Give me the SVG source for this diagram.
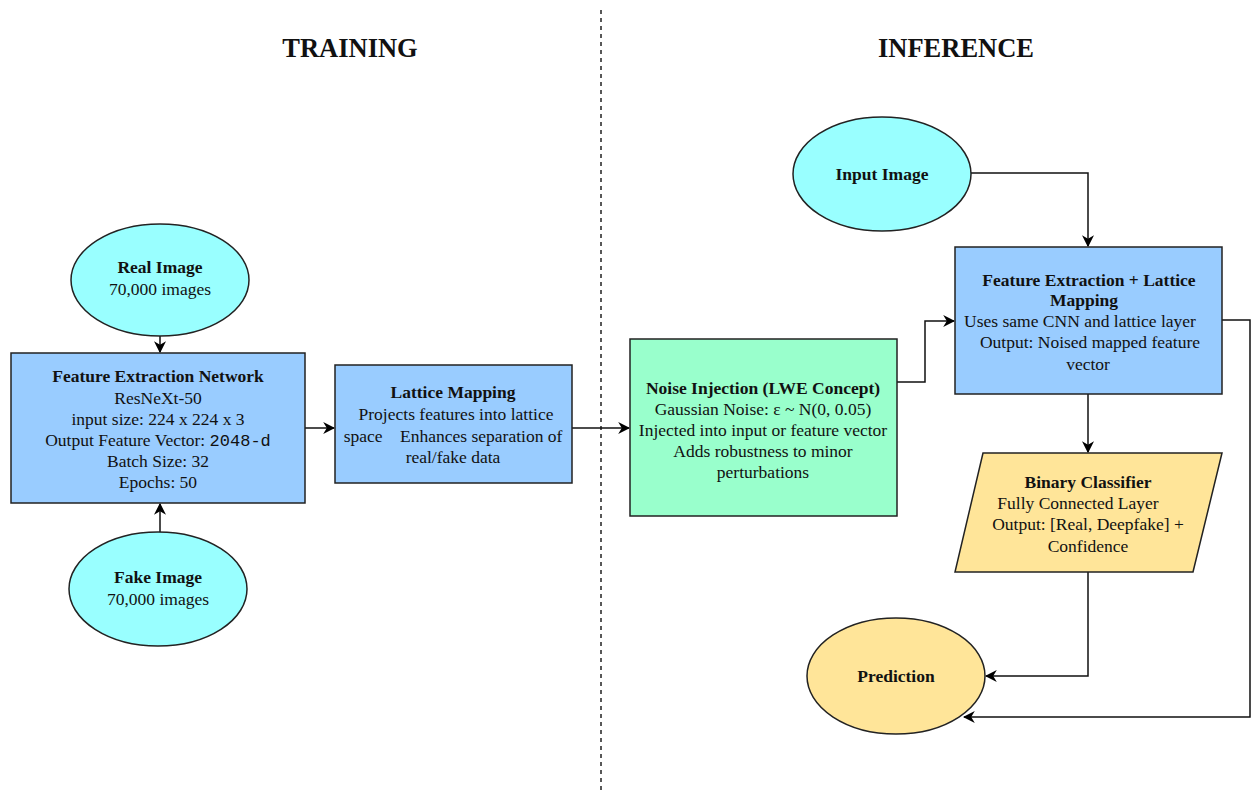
<svg xmlns="http://www.w3.org/2000/svg" width="1258" height="790" viewBox="0 0 1258 790">
<defs>
<marker id="ah" viewBox="0 0 10 10" refX="9" refY="5" markerWidth="12" markerHeight="12" markerUnits="userSpaceOnUse" orient="auto">
<path d="M0,0 L10,5 L0,10 L3,5 Z" fill="#000"/>
</marker>
<style>
text{font-family:"Liberation Serif","Times New Roman",serif;font-size:17.5px;fill:#111;text-anchor:middle}
.b{font-weight:bold}
.t{font-weight:bold;font-size:26.5px}
.m{font-family:"Liberation Mono","DejaVu Sans Mono",monospace;font-size:17px}
.cy{fill:#99FFFF;stroke:#222;stroke-width:1.5}
.bl{fill:#99CCFF;stroke:#222;stroke-width:1.5}
.gr{fill:#99FFCC;stroke:#222;stroke-width:1.5}
.ye{fill:#FFE599;stroke:#222;stroke-width:1.5}
.c{fill:none;stroke:#111;stroke-width:1.5;marker-end:url(#ah)}
</style>
</defs>
<rect width="1258" height="790" fill="#fff"/>
<text class="t" x="350" y="57">TRAINING</text>
<text class="t" x="956" y="57">INFERENCE</text>
<line x1="601" y1="10" x2="601" y2="790" stroke="#222" stroke-width="1.5" stroke-dasharray="4,4"/>

<g id="connectors">
<path class="c" d="M160,336 L160,352"/>
<path class="c" d="M160,532 L160,504"/>
<path class="c" d="M305,428 L334,428"/>
<path class="c" d="M572,428 L629,428"/>
<path class="c" d="M897,382 L925,382 L925,321 L954,321"/>
<path class="c" d="M971,173 L1088,173 L1088,246"/>
<path class="c" d="M1088,394 L1088,452"/>
<path class="c" d="M1088,572 L1088,676 L986,676"/>
<path class="c" d="M1222,320 L1250,320 L1250,717 L964,717"/>
</g>

<g id="real-image">
<ellipse class="cy" cx="160" cy="280" rx="89" ry="56"/>
<text class="b" x="160" y="273">Real Image</text>
<text x="160" y="295">70,000 images</text>
</g>

<g id="fake-image">
<ellipse class="cy" cx="158" cy="589" rx="89" ry="57"/>
<text class="b" x="158" y="583">Fake Image</text>
<text x="158" y="605">70,000 images</text>
</g>

<g id="feature-extraction-network">
<rect class="bl" x="11" y="353" width="294" height="150"/>
<text class="b" x="158" y="382">Feature Extraction Network</text>
<text x="158" y="404">ResNeXt-50</text>
<text x="158" y="425">input size: 224 x 224 x 3</text>
<text x="158" y="446">Output Feature Vector: <tspan class="m">2048-d</tspan></text>
<text x="158" y="467">Batch Size: 32</text>
<text x="158" y="488">Epochs: 50</text>
</g>

<g id="lattice-mapping">
<rect class="bl" x="335" y="365" width="237" height="118"/>
<text class="b" x="453" y="398">Lattice Mapping</text>
<text x="456" y="420">Projects features into lattice</text>
<text x="453" y="442" xml:space="preserve">space    Enhances separation of</text>
<text x="453" y="463">real/fake data</text>
</g>

<g id="noise-injection">
<rect class="gr" x="630" y="339" width="267" height="177"/>
<text class="b" x="763" y="394">Noise Injection (LWE Concept)</text>
<text x="763" y="415">Gaussian Noise: ε ~ N(0, 0.05)</text>
<text x="763" y="436">Injected into input or feature vector</text>
<text x="763" y="457">Adds robustness to minor</text>
<text x="763" y="478">perturbations</text>
</g>

<g id="input-image">
<ellipse class="cy" cx="882" cy="174" rx="89" ry="57"/>
<text class="b" x="882" y="180">Input Image</text>
</g>

<g id="feature-extraction-lattice">
<rect class="bl" x="955" y="247" width="267" height="147"/>
<text class="b" x="1089" y="286">Feature Extraction + Lattice</text>
<text class="b" x="1084" y="306">Mapping</text>
<text x="1080" y="327">Uses same CNN and lattice layer</text>
<text x="1090" y="348">Output: Noised mapped feature</text>
<text x="1088" y="370">vector</text>
</g>

<g id="binary-classifier">
<polygon class="ye" points="983,453 1222,453 1193,572 955,572"/>
<text class="b" x="1088" y="488">Binary Classifier</text>
<text x="1078" y="509">Fully Connected Layer</text>
<text x="1088" y="530">Output: [Real, Deepfake] +</text>
<text x="1088" y="552">Confidence</text>
</g>

<g id="prediction">
<ellipse class="ye" cx="896" cy="676" rx="89" ry="58"/>
<text class="b" x="896" y="682">Prediction</text>
</g>
</svg>
